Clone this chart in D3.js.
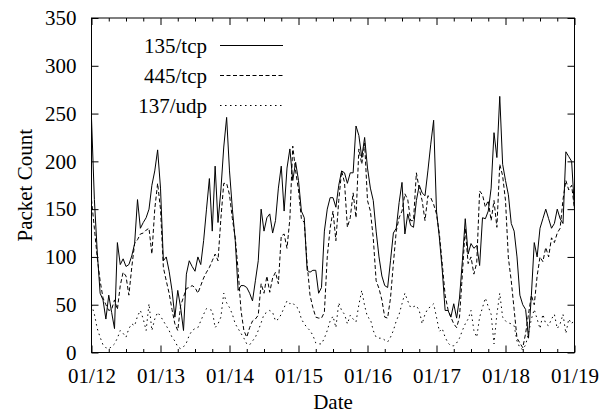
<!DOCTYPE html>
<html>
<head>
<meta charset="utf-8">
<script src="https://cdn.jsdelivr.net/npm/d3@7"></script>
<style>
  body { margin: 0; background: #fff; }
  text { font-family: "Liberation Serif", "Times New Roman", serif; fill: #000; }
</style>
</head>
<body>
<svg id="chart" width="608" height="418"></svg>
<script>
//
// Data (hourly packet counts, 01/12 00:00 .. 01/19 00:00)
//
const startDay = Date.UTC(2007, 0, 12);
const dayTicks = ["01/12", "01/13", "01/14", "01/15", "01/16", "01/17", "01/18", "01/19"];
const yTicks = [0, 50, 100, 150, 200, 250, 300, 350];

const tcp135 = [
  245,160,105,62,55,35,60,42,25,115,
  92,98,90,92,101,114,160,130,136,141,
  150,175,190,212,172,96,100,85,65,37,
  65,47,23,82,96,90,85,100,92,117,
  150,182,127,195,136,170,215,246,190,150,
  117,65,70,70,68,62,54,75,96,150,
  127,141,145,125,138,172,195,148,193,213,
  180,199,180,148,141,86,84,86,86,62,
  68,127,150,162,162,152,175,190,188,177,
  188,188,237,227,204,225,193,172,159,127,
  100,80,70,68,96,125,130,157,178,124,
  145,133,131,159,175,167,164,190,218,243,
  148,120,86,44,44,37,51,36,57,96,
  140,103,114,109,112,91,141,140,148,172,
  230,204,268,197,180,165,135,127,100,60,
  50,45,15,60,115,100,130,140,150,140,
  130,135,150,140,135,210,205,200,150
];
const tcp445 = [
  160,130,99,75,57,50,44,45,55,45,
  70,84,80,60,89,114,118,124,125,128,
  130,103,150,177,150,89,75,62,45,30,
  23,49,58,67,68,70,68,62,70,78,
  84,89,96,103,96,140,177,177,165,140,
  120,86,44,23,16,26,33,35,39,72,
  62,80,63,78,84,72,122,124,109,140,
  216,190,170,140,136,93,60,47,37,36,
  36,42,100,130,148,117,159,190,178,131,
  141,167,141,213,197,219,159,148,120,75,
  67,55,37,36,57,93,127,141,148,166,
  160,138,138,188,171,159,138,164,162,155,
  145,124,93,60,45,37,30,26,37,82,
  130,93,100,82,94,169,165,152,159,138,
  159,131,197,185,159,99,75,45,15,10,
  5,20,40,60,50,80,100,95,110,100,
  120,115,125,130,160,180,170,175,150
];
const udp137 = [
  50,40,25,16,8,5,4,6,9,15,
  23,20,16,25,30,28,38,44,35,23,
  51,23,35,42,38,33,28,23,16,12,
  6,4,6,10,18,23,25,26,33,40,
  46,45,44,26,30,37,62,52,47,40,
  30,25,20,15,9,8,12,16,23,31,
  40,42,44,42,33,35,40,47,54,51,
  52,48,46,35,30,26,23,18,10,9,
  9,15,23,33,38,26,52,44,40,30,
  39,35,32,50,65,49,37,35,23,16,
  15,15,13,11,16,23,33,40,51,62,
  54,47,48,49,44,30,40,46,48,51,
  37,22,25,16,10,7,7,10,15,23,
  30,35,44,23,16,37,47,57,48,40,
  9,40,62,37,33,31,30,28,12,5,
  3,8,20,35,45,35,25,40,30,28,
  35,40,25,30,40,20,35,30,35
];

const series = [
  { name: "135/tcp", values: tcp135, dash: null },
  { name: "445/tcp", values: tcp445, dash: "4,2.5" },
  { name: "137/udp", values: udp137, dash: "1.5,3.5" }
];

//
// Layout
//
const plotLeft = 91.5, plotRight = 574.5, plotTop = 18, plotBottom = 352.5;
const hour = 3600 * 1000;
const day = 24 * hour;

const svg = d3.select("#chart");
const x = d3.scaleUtc()
  .domain([new Date(startDay), new Date(startDay + 7 * day)])
  .range([plotLeft, plotRight]);
const y = d3.scaleLinear().domain([0, 350]).range([plotBottom, plotTop]);

const majorX = dayTicks.map((d, i) => new Date(startDay + i * day));
const minorX = d3.range(0, 7 * 24 + 1, 6).filter(h => h % 24 !== 0)
  .map(h => new Date(startDay + h * hour));

// axes, ticks point inward like gnuplot
function styleAxis(g) {
  g.select(".domain").remove();
  g.selectAll("line").attr("stroke", "#000").attr("stroke-width", 1);
  g.selectAll("text").attr("font-size", 21).attr("fill", "#000");
}

svg.append("g")
  .attr("transform", `translate(0,${plotBottom})`)
  .call(d3.axisBottom(x).tickValues(majorX).tickSize(-7).tickPadding(15.5)
    .tickFormat((d, i) => dayTicks[i]))
  .call(styleAxis);
svg.append("g")
  .attr("transform", `translate(0,${plotBottom})`)
  .call(d3.axisBottom(x).tickValues(minorX).tickSize(-3.5).tickFormat(""))
  .call(styleAxis);
svg.append("g")
  .attr("transform", `translate(0,${plotTop})`)
  .call(d3.axisTop(x).tickValues(majorX).tickSize(-7).tickFormat(""))
  .call(styleAxis);
svg.append("g")
  .attr("transform", `translate(0,${plotTop})`)
  .call(d3.axisTop(x).tickValues(minorX).tickSize(-3.5).tickFormat(""))
  .call(styleAxis);
svg.append("g")
  .attr("transform", `translate(${plotLeft},0)`)
  .call(d3.axisLeft(y).tickValues(yTicks).tickSize(-7).tickPadding(15))
  .call(styleAxis);
svg.append("g")
  .attr("transform", `translate(${plotRight},0)`)
  .call(d3.axisRight(y).tickValues(yTicks).tickSize(-7).tickFormat(""))
  .call(styleAxis);

// frame
svg.append("rect")
  .attr("x", plotLeft).attr("y", plotTop)
  .attr("width", plotRight - plotLeft).attr("height", plotBottom - plotTop)
  .attr("fill", "none").attr("stroke", "#000").attr("stroke-width", 1);

// lines
const line = d3.line()
  .x((d, i) => x(new Date(startDay + i * hour)))
  .y(d => y(d));

svg.append("g").selectAll("path")
  .data(series)
  .join("path")
  .attr("d", d => line(d.values))
  .attr("fill", "none")
  .attr("stroke", "#000")
  .attr("stroke-width", 1)
  .attr("stroke-dasharray", d => d.dash);

// legend
const legend = svg.append("g").selectAll("g")
  .data(series)
  .join("g")
  .attr("transform", (d, i) => `translate(0,${45.5 + i * 30})`);
legend.append("text")
  .attr("x", 207).attr("y", 7)
  .attr("text-anchor", "end")
  .attr("font-size", 21)
  .text(d => d.name);
legend.append("line")
  .attr("x1", 220).attr("x2", 283)
  .attr("stroke", "#000").attr("stroke-width", 1)
  .attr("stroke-dasharray", d => d.dash);

// axis titles
svg.append("text")
  .attr("x", (plotLeft + plotRight) / 2).attr("y", 409)
  .attr("text-anchor", "middle").attr("font-size", 21)
  .text("Date");
svg.append("text")
  .attr("transform", `translate(32,${(plotTop + plotBottom) / 2}) rotate(-90)`)
  .attr("text-anchor", "middle").attr("font-size", 21)
  .text("Packet Count");
</script>
</body>
</html>
